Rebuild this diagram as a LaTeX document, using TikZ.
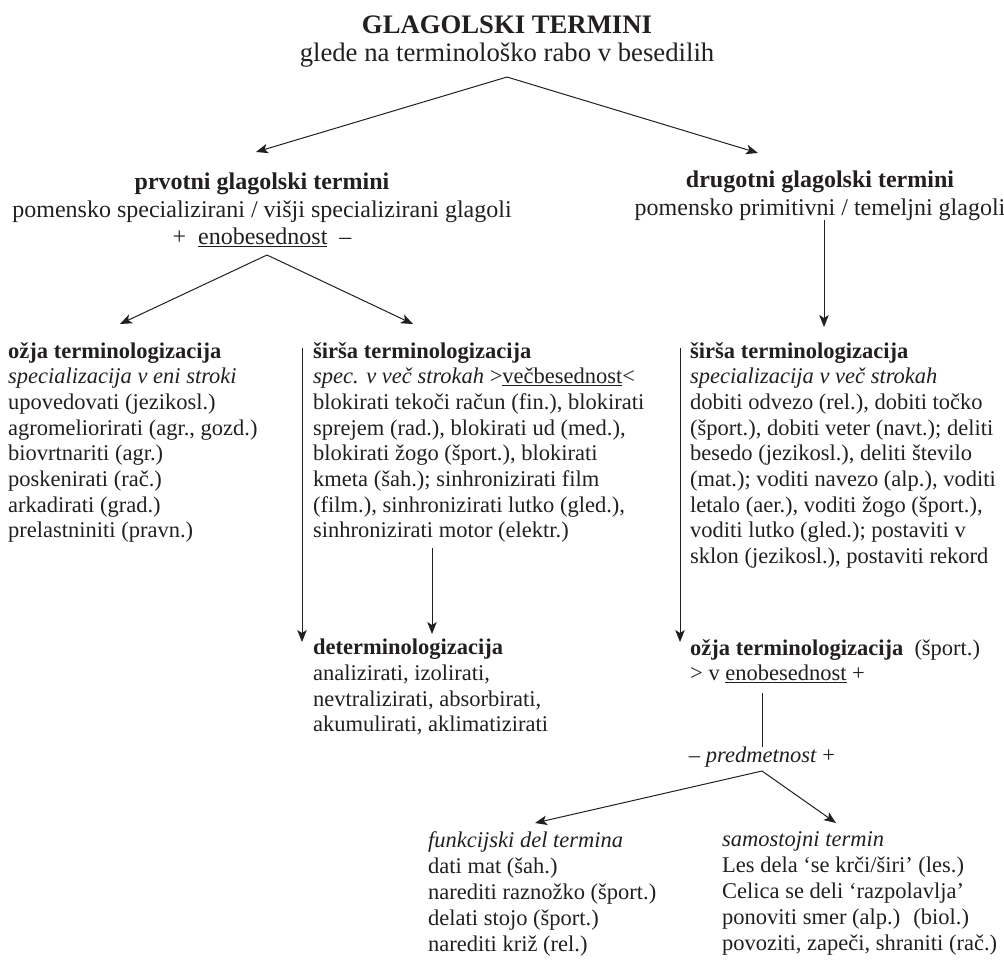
\documentclass[tikz,border=0pt]{standalone}
\usepackage{fontspec}
\setmainfont{Liberation Serif}
\usepackage{xcolor}
\usepackage{tikz}
\usetikzlibrary{arrows.meta,calc}
\definecolor{figline}{RGB}{35,31,32}
\tikzset{
  ttl/.style ={font=\fontsize{26.7}{30}\selectfont\bfseries, text=figline, inner sep=0pt},
  sub/.style ={font=\fontsize{26.7}{30}\selectfont, text=figline, inner sep=0pt},
  hd/.style  ={font=\fontsize{24}{27.5}\selectfont, text=figline, align=center, inner sep=0pt},
  blk/.style ={font=\fontsize{22.5}{25.7}\selectfont, text=figline, align=left, inner sep=0pt, anchor=north west},
  blkb/.style={blk, font=\fontsize{22.5}{26}\selectfont},
  ptr/.style ={draw=figline, line width=1pt, -{Stealth[length=12pt,width=9.5pt,inset=3pt]}},
  ln/.style  ={draw=figline, line width=1pt},
}

\begin{document}
\begin{tikzpicture}[x=1pt,y=-1pt]
  \useasboundingbox (0,0) rectangle (1004,959);
  % top
  \node[ttl] (title) at (507,25) {GLAGOLSKI TERMINI};
  \node[sub] (sub) at (507,55) {glede na terminološko rabo v besedilih};
  \node[hd] (prv) at (262,210) {\textbf{prvotni glagolski termini}\\
    pomensko specializirani / višji specializirani glagoli\\
    + \ \underline{enobesednost} \ –};
  \node[hd] (drg) at (820,196) {\textbf{drugotni glagolski termini}\\
    pomensko primitivni / temeljni glagoli};
  \coordinate (a1) at (507,77);
  \coordinate (t1l) at (256,152);
  \coordinate (t1r) at (758,153);
  \draw[ptr] (a1) -- (t1l);
  \draw[ptr] (a1) -- (t1r);
  % second level
  \node[blk] (ozja) at (8,342) {\textbf{ožja terminologizacija}\\
    \textit{specializacija v eni stroki}\\
    upovedovati (jezikosl.)\\
    agromeliorirati (agr., gozd.)\\
    biovrtnariti (agr.)\\
    poskenirati (rač.)\\
    arkadirati (grad.)\\
    prelastniniti (pravn.)};
  \node[blk] (sirsa) at (313,342) {\textbf{širša terminologizacija}\\
    \textit{spec. v več strokah} >\underline{večbesednost}<\\
    blokirati tekoči račun (fin.), blokirati\\
    sprejem (rad.), blokirati ud (med.),\\
    blokirati žogo (šport.), blokirati\\
    kmeta (šah.); sinhronizirati film\\
    (film.), sinhronizirati lutko (gled.),\\
    sinhronizirati motor (elektr.)};
  \node[blk] (sirsb) at (690,342) {\textbf{širša terminologizacija}\\
    \textit{specializacija v več strokah}\\
    dobiti odvezo (rel.), dobiti točko\\
    (šport.), dobiti veter (navt.); deliti\\
    besedo (jezikosl.), deliti število\\
    (mat.); voditi navezo (alp.), voditi\\
    letalo (aer.), voditi žogo (šport.),\\
    voditi lutko (gled.); postaviti v\\
    sklon (jezikosl.), postaviti rekord};
  \coordinate (a2) at (267,255);
  \coordinate (t2l) at (120,324);
  \coordinate (t2r) at (413,324);
  \draw[ptr] (a2) -- (t2l);
  \draw[ptr] (a2) -- (t2r);
  \coordinate (v1) at (824,220);
  \coordinate (v1e) at (824,327);
  \draw[ptr] (v1) -- (v1e);
  % third level
  \node[blk] (deter) at (313,639) {\textbf{determinologizacija}\\
    analizirati, izolirati,\\
    nevtralizirati, absorbirati,\\
    akumulirati, aklimatizirati};
  \node[blk] (ozjb) at (690,639) {\textbf{ožja terminologizacija} \ (šport.)\\
    > v \underline{enobesednost} +};
  \coordinate (vb) at (302,348);
  \coordinate (vbe) at (302,642);
  \draw[ptr] (vb) -- (vbe);
  \coordinate (vm) at (432,548);
  \coordinate (vme) at (432,634);
  \draw[ptr] (vm) -- (vme);
  \coordinate (vc) at (680,348);
  \coordinate (vce) at (680,642);
  \draw[ptr] (vc) -- (vce);
  % predmetnost
  \node[blk, anchor=center] (pred) at (762,757) {– \textit{predmetnost} +};
  \coordinate (pl) at (762,693);
  \draw[ln] (pl) -- (762,747);
  \node[blkb] (funk) at (428,831) {\textit{funkcijski del termina}\\
    dati mat (šah.)\\
    narediti raznožko (šport.)\\
    delati stojo (šport.)\\
    narediti križ (rel.)};
  \node[blkb] (samo) at (722,831) {\textit{samostojni termin}\\
    Les dela ‘se krči/širi’ (les.)\\
    Celica se deli ‘razpolavlja’\\
    ponoviti smer (alp.) \ (biol.)\\
    povoziti, zapeči, shraniti (rač.)};
  \coordinate (a3) at (762,771);
  \coordinate (t3l) at (535,823);
  \coordinate (t3r) at (836,823);
  \draw[ptr] (a3) -- (t3l);
  \draw[ptr] (a3) -- (t3r);
\end{tikzpicture}
\end{document}
